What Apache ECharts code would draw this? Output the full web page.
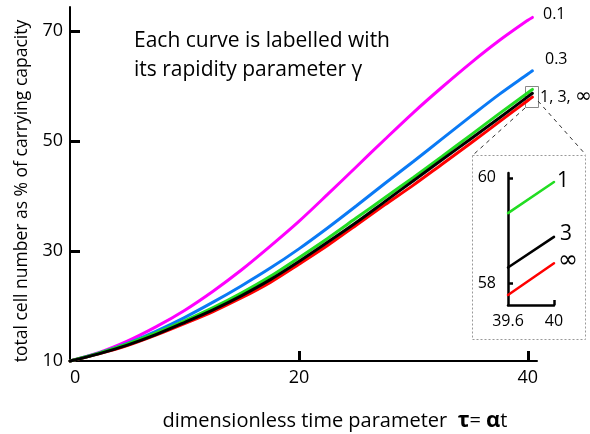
<!DOCTYPE html>
<html>
<head>
<meta charset="utf-8">
<script src="https://cdn.jsdelivr.net/npm/echarts@6/dist/echarts.min.js"></script>
<style>html,body{margin:0;padding:0;background:#fff;}#c{width:590px;height:434px;}</style>
</head>
<body>
<div id="c"></div>
<script>
// ---- data ----
const tau      = [0, 2.5, 5, 7.5, 10, 12.5, 15, 17.5, 20, 22.5, 25, 27.5, 30, 32.5, 35, 37.5, 40, 40.4];
const gamma0_1 = [10, 11.5, 13.6, 16.2, 19.2, 22.7, 26.6, 30.9, 35.4, 40.3, 45.3, 50.3, 55.2, 59.8, 64.2, 68.3, 72.0, 72.5];
const gamma0_3 = [10, 11.4, 13.2, 15.4, 17.9, 20.7, 23.7, 26.9, 30.4, 34.2, 38.2, 42.3, 46.3, 50.4, 54.5, 58.5, 62.2, 62.8];
const gamma1   = [10, 11.4, 13.1, 15.1, 17.3, 19.7, 22.4, 25.4, 28.8, 32.3, 36.0, 39.7, 43.4, 47.2, 51.1, 55.0, 58.8, 59.4];
const gamma3   = [10, 11.3, 12.9, 14.8, 17.0, 19.3, 21.9, 24.8, 28.1, 31.6, 35.2, 39.0, 42.8, 46.6, 50.4, 54.2, 58.1, 58.7];
const gammaInf = [10, 11.3, 12.8, 14.7, 16.8, 19.0, 21.5, 24.3, 27.6, 31.0, 34.7, 38.4, 42.0, 45.8, 49.6, 53.5, 57.4, 58.0];

// inset (zoom on 39.6..40)
const tauInset   = [39.6, 40];
const inset1     = [59.33, 59.92];
const inset3     = [58.30, 58.88];
const insetInf   = [57.78, 58.38];

const xTicks = [20, 40];
const xLabels = [0, 20, 40];
const yTicks = [30, 50, 70];
const yLabels = [10, 30, 50, 70];
const insetXTicks = [40];
const insetXLabels = [39.6, 40];
const insetYTicks = [58, 60];
const insetYLabels = [58, 60];

const pairs = (xs, ys) => xs.map((x, i) => [x, ys[i]]);
const FONT = 'Open Sans';

function lineSeries(data, color, width, xi, yi) {
  return {
    type: 'line', data: data, xAxisIndex: xi, yAxisIndex: yi,
    showSymbol: false, smooth: 0.3, clip: false,
    lineStyle: { color: color, width: width, cap: 'round' }
  };
}

const chart = echarts.init(document.getElementById('c'), null, { renderer: 'canvas' });
chart.setOption({
  animation: false,
  backgroundColor: '#fff',
  grid: [
    { left: 70, top: 7, width: 467, height: 354 },
    { left: 508, top: 173, width: 46, height: 132 }
  ],
  xAxis: [
    {
      gridIndex: 0, type: 'value', min: 0, max: 40.8,
      axisLine: { onZero: false, lineStyle: { color: '#000', width: 2 } },
      axisTick: { inside: true, length: 10, customValues: xTicks, lineStyle: { color: '#000', width: 3 } },
      axisLabel: { customValues: xLabels, margin: 8, color: '#000', fontSize: 18, fontFamily: FONT, alignMinLabel: 'left' },
      splitLine: { show: false }
    },
    {
      gridIndex: 1, type: 'value', min: 39.6, max: 40,
      axisLine: { onZero: false, lineStyle: { color: '#000', width: 2.5 } },
      axisTick: { inside: true, length: 5, customValues: insetXTicks, lineStyle: { color: '#000', width: 2.5 } },
      axisLabel: { customValues: insetXLabels, margin: 8, color: '#000', fontSize: 16, fontFamily: FONT },
      splitLine: { show: false }
    }
  ],
  yAxis: [
    {
      gridIndex: 0, type: 'value', min: 10, max: 74.4,
      axisLine: { onZero: false, lineStyle: { color: '#000', width: 2 } },
      axisTick: { inside: true, length: 10, customValues: yTicks, lineStyle: { color: '#000', width: 3 } },
      axisLabel: { customValues: yLabels, margin: 7, color: '#000', fontSize: 18, fontFamily: FONT },
      splitLine: { show: false }
    },
    {
      gridIndex: 1, type: 'value', min: 57.59, max: 60.09,
      axisLine: { onZero: false, lineStyle: { color: '#000', width: 2.5 } },
      axisTick: { inside: true, length: 5, customValues: insetYTicks, lineStyle: { color: '#000', width: 2.5 } },
      axisLabel: { customValues: insetYLabels, margin: 12, color: '#000', fontSize: 16, fontFamily: FONT },
      splitLine: { show: false }
    }
  ],
  series: [
    lineSeries(pairs(tau, gamma0_1), '#ff00ff', 3, 0, 0),
    lineSeries(pairs(tau, gamma0_3), '#0a7af5', 3, 0, 0),
    lineSeries(pairs(tau, gammaInf), '#ff0000', 3, 0, 0),
    lineSeries(pairs(tau, gamma1), '#22dd22', 3, 0, 0),
    lineSeries(pairs(tau, gamma3), '#000000', 3, 0, 0),
    lineSeries(pairs(tauInset, inset1), '#22dd22', 2.5, 1, 1),
    lineSeries(pairs(tauInset, inset3), '#000000', 2.5, 1, 1),
    lineSeries(pairs(tauInset, insetInf), '#ff0000', 2.5, 1, 1)
  ],
  graphic: [
    // y axis title
    { type: 'text', x: 22, y: 191, rotation: Math.PI / 2,
      style: { text: 'total cell number as % of carrying capacity', fill: '#000', font: '17.5px "Open Sans"', align: 'center', verticalAlign: 'middle' } },
    // x axis title
    { type: 'text', x: 335, y: 421,
      style: { text: '{n|dimensionless time parameter  }{g|τ}{n|= }{g|α}{n|t}', fill: '#000', align: 'center', verticalAlign: 'middle',
        rich: { n: { fontSize: 20, fontFamily: FONT, fill: '#000' }, g: { fontSize: 22, fontFamily: FONT, fontWeight: 'bold', fill: '#000' } } } },
    // annotation
    { type: 'text', x: 134, y: 41,
      style: { text: 'Each curve is labelled with', fill: '#000', font: '21px "Open Sans"', align: 'left', verticalAlign: 'middle' } },
    { type: 'text', x: 134, y: 70,
      style: { text: 'its rapidity parameter γ', fill: '#000', font: '21px "Open Sans"', align: 'left', verticalAlign: 'middle' } },
    // curve labels
    { type: 'text', x: 543, y: 14, style: { text: '0.1', fill: '#000', font: '16px "Open Sans"', align: 'left', verticalAlign: 'middle' } },
    { type: 'text', x: 545, y: 59, style: { text: '0.3', fill: '#000', font: '16px "Open Sans"', align: 'left', verticalAlign: 'middle' } },
    { type: 'text', x: 540, y: 97, style: { text: '{a|1, 3, }{b|∞}', align: 'left', verticalAlign: 'middle',
        rich: { a: { fontSize: 16, fontFamily: FONT, fill: '#000' }, b: { fontSize: 20, fontFamily: 'DejaVu Sans', fill: '#000' } } } },
    // zoom box and leader lines
    { type: 'rect', shape: { x: 525.5, y: 86.5, width: 13, height: 21 }, style: { fill: 'none', stroke: '#888', lineWidth: 1 } },
    { type: 'line', shape: { x1: 525, y1: 108, x2: 473, y2: 155 }, style: { stroke: '#333', lineWidth: 1, lineDash: [4, 4] } },
    { type: 'line', shape: { x1: 538, y1: 101, x2: 586, y2: 155 }, style: { stroke: '#333', lineWidth: 1, lineDash: [4, 4] } },
    { type: 'rect', shape: { x: 472.5, y: 155.5, width: 113, height: 184 }, style: { fill: 'none', stroke: '#999', lineWidth: 1, lineDash: [2, 2] } },
    // inset labels
    { type: 'text', x: 563, y: 181, style: { text: '1', fill: '#000', font: '21px "Open Sans"', align: 'center', verticalAlign: 'middle' } },
    { type: 'text', x: 566, y: 234, style: { text: '3', fill: '#000', font: '21px "Open Sans"', align: 'center', verticalAlign: 'middle' } },
    { type: 'text', x: 568, y: 261, style: { text: '∞', fill: '#000', font: '24px "DejaVu Sans"', align: 'center', verticalAlign: 'middle' } }
  ]
});
</script>
</body>
</html>
